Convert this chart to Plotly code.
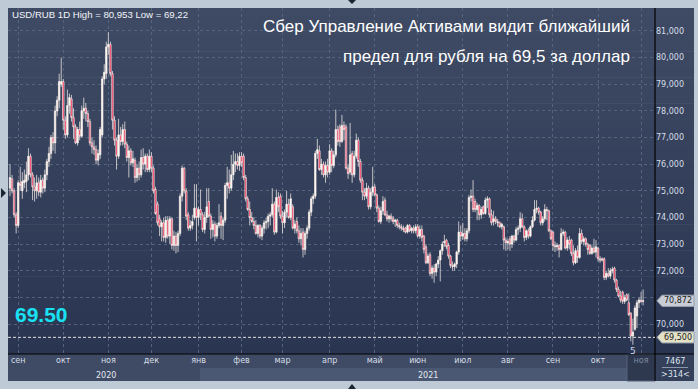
import plotly.graph_objects as go
import pandas as pd

# ---------------- data ----------------
dates = pd.bdate_range("2020-08-26", "2021-11-02").strftime("%Y-%m-%d").tolist()

opens = [
    75.10, 75.45, 75.00, 74.10, 73.70, 75.30, 75.00, 75.30, 75.35, 75.60,
    76.30, 75.60, 75.15, 75.00, 75.30, 74.95, 75.40, 75.10, 75.60, 76.10,
    76.40, 77.00, 76.80, 78.00, 78.40, 79.00, 79.10, 77.65, 77.10, 78.20,
    78.45, 77.75, 77.40, 76.80, 77.30, 77.05, 78.00, 78.10, 77.90, 77.60,
    76.80, 76.65, 76.55, 76.15, 76.35, 77.10, 79.20, 79.40, 80.40, 80.50,
    79.40, 77.65, 76.90, 76.30, 77.10, 76.85, 77.30, 76.75, 76.25, 76.50,
    76.05, 76.15, 75.50, 75.85, 75.60, 76.25, 76.00, 76.30, 75.80, 76.30,
    75.85, 75.05, 74.50, 73.95, 73.65, 73.80, 73.25, 73.90, 73.30, 73.95,
    72.95, 73.30, 72.95, 73.40, 74.80, 75.85, 75.00, 74.10, 73.60, 73.70,
    74.00, 74.35, 74.00, 74.30, 74.10, 73.55, 74.00, 74.60, 74.05, 73.55,
    73.75, 73.30, 73.70, 74.05, 73.70, 73.90, 75.20, 75.30, 75.10, 75.60,
    76.00, 76.10, 75.95, 76.30, 76.30, 75.50, 74.70, 74.30, 74.00, 73.85,
    73.70, 73.40, 73.70, 73.30, 73.60, 73.80, 73.85, 74.05, 74.10, 74.50,
    73.45, 74.75, 74.80, 74.05, 73.80, 74.20, 74.50, 74.00, 74.40, 73.60,
    73.85, 73.50, 73.20, 73.45, 72.80, 73.40, 73.60, 74.20, 74.70, 74.80,
    76.40, 76.50, 75.80, 76.00, 75.60, 75.95, 75.70, 76.50, 75.95, 76.35,
    77.30, 77.40, 76.85, 77.45, 77.40, 75.85, 75.70, 76.40, 75.60, 76.30,
    76.90, 76.10, 75.40, 74.95, 74.80, 75.10, 74.40, 74.95, 75.15, 74.85,
    74.35, 73.85, 74.25, 74.65, 74.10, 73.95, 74.05, 73.95, 73.85, 73.90,
    73.70, 73.65, 73.60, 73.60, 73.45, 73.70, 73.50, 73.60, 73.50, 73.65,
    73.30, 73.55, 73.30, 72.90, 72.30, 72.60, 71.90, 72.10, 71.95, 72.25,
    72.40, 72.75, 73.05, 73.15, 72.95, 72.55, 72.20, 72.15, 72.25, 72.70,
    73.45, 73.30, 73.40, 73.20, 73.50, 74.75, 74.80, 74.60, 74.30, 74.45,
    74.10, 74.40, 74.15, 74.65, 74.70, 74.10, 73.85, 73.95, 73.85, 73.80,
    73.65, 73.65, 73.15, 73.05, 73.20, 73.00, 73.30, 73.15, 73.55, 73.60,
    73.95, 73.65, 73.25, 73.50, 73.30, 73.65, 73.90, 74.30, 74.35, 74.20,
    73.80, 73.95, 74.30, 74.25, 73.50, 73.45, 72.95, 72.90, 72.95, 72.80,
    73.40, 73.45, 72.85, 73.15, 73.15, 72.65, 72.30, 72.75, 72.50, 73.40,
    73.10, 73.20, 73.00, 72.95, 72.65, 72.85, 72.70, 72.85, 72.45, 72.45,
    72.45, 71.75, 71.90, 71.80, 72.00, 72.10, 71.65, 71.30, 71.05, 71.20,
    70.85, 71.10, 70.80, 70.40, 69.55, 69.80, 70.30, 70.80, 70.90, 70.85,
]

highs = [
    76.00, 75.60, 75.10, 74.20, 75.40, 75.90, 75.70, 75.80, 76.10, 76.60,
    76.40, 75.70, 75.50, 75.60, 75.50, 75.60, 75.50, 75.80, 76.20, 76.65,
    77.10, 77.20, 78.20, 78.55, 79.40, 80.00, 79.20, 77.80, 78.80, 78.65,
    78.60, 78.10, 77.50, 77.40, 77.60, 78.20, 78.50, 78.30, 78.00, 77.70,
    77.00, 76.90, 76.70, 76.55, 77.40, 79.30, 79.75, 80.60, 80.953, 80.60,
    79.50, 77.80, 77.00, 77.70, 77.40, 77.50, 77.60, 76.85, 76.70, 76.60,
    76.50, 76.25, 76.00, 76.10, 76.55, 76.60, 76.40, 76.40, 76.55, 76.45,
    75.95, 75.15, 74.60, 74.10, 73.90, 74.00, 74.05, 74.05, 74.05, 74.00,
    73.50, 73.45, 73.50, 74.90, 75.95, 75.90, 75.10, 74.20, 73.90, 74.10,
    75.25, 75.25, 74.40, 75.05, 74.20, 74.20, 75.10, 75.10, 74.15, 73.90,
    73.85, 73.80, 74.50, 74.20, 74.00, 75.30, 75.90, 75.80, 76.35, 76.50,
    76.40, 76.40, 76.45, 76.45, 76.40, 75.60, 74.80, 74.60, 74.20, 74.00,
    73.90, 73.75, 73.75, 73.70, 73.90, 74.00, 74.15, 74.20, 75.10, 74.60,
    75.05, 74.95, 74.90, 74.25, 74.30, 75.00, 74.70, 74.90, 74.50, 73.90,
    74.00, 73.70, 73.60, 73.60, 73.50, 73.70, 74.30, 74.80, 74.90, 76.50,
    76.95, 76.70, 76.20, 76.10, 76.10, 76.20, 76.75, 76.60, 76.50, 78.05,
    77.45, 77.50, 77.85, 77.60, 77.50, 76.00, 77.55, 76.50, 76.50, 77.15,
    77.00, 76.20, 75.50, 75.10, 75.30, 75.20, 75.10, 75.90, 75.25, 74.90,
    74.45, 74.40, 74.80, 74.75, 74.25, 74.10, 74.15, 74.05, 73.95, 73.95,
    73.80, 73.75, 73.70, 73.65, 73.75, 73.75, 73.65, 73.70, 73.75, 73.75,
    73.70, 73.70, 73.35, 73.00, 72.65, 72.70, 72.20, 72.25, 72.30, 72.55,
    72.80, 73.10, 73.35, 73.20, 73.05, 72.60, 72.35, 72.30, 72.75, 73.85,
    73.70, 73.80, 73.60, 73.60, 74.85, 75.05, 75.40, 74.70, 74.55, 74.50,
    74.40, 74.45, 74.75, 74.80, 74.75, 74.30, 74.25, 74.05, 73.95, 73.85,
    73.80, 73.70, 73.25, 73.20, 73.30, 73.35, 73.35, 73.65, 73.70, 74.20,
    74.15, 73.70, 73.55, 73.60, 73.70, 74.05, 74.65, 74.65, 74.40, 74.25,
    74.05, 74.50, 74.40, 74.30, 73.55, 73.50, 73.10, 73.05, 73.00, 73.60,
    73.55, 73.50, 73.25, 73.30, 73.20, 72.95, 72.85, 72.95, 73.60, 73.55,
    73.30, 73.25, 73.05, 73.00, 72.95, 73.20, 73.15, 72.90, 72.55, 72.50,
    72.50, 72.00, 72.10, 72.10, 72.15, 72.15, 71.70, 71.40, 71.25, 71.25,
    71.10, 71.15, 71.15, 70.45, 70.20, 70.70, 70.90, 71.00, 71.20, 71.30,
]

lows = [
    74.80, 74.90, 74.00, 73.40, 73.60, 75.00, 74.70, 75.10, 74.95, 75.40,
    75.50, 74.65, 74.60, 74.70, 74.80, 74.75, 74.90, 74.95, 75.40, 75.90,
    76.20, 76.50, 76.40, 77.80, 78.10, 78.90, 77.30, 76.95, 77.00, 77.90,
    77.60, 76.95, 76.75, 76.70, 76.90, 77.00, 77.70, 77.60, 77.40, 76.70,
    76.40, 76.35, 76.00, 75.95, 76.20, 77.00, 79.00, 79.20, 80.10, 79.30,
    77.30, 76.70, 75.80, 76.20, 76.70, 76.70, 76.60, 76.10, 75.50, 75.95,
    75.90, 75.30, 75.35, 75.40, 75.50, 75.80, 75.70, 75.70, 75.70, 75.70,
    74.90, 74.10, 73.70, 73.30, 73.10, 73.10, 73.05, 73.20, 73.00, 72.80,
    72.75, 72.65, 72.70, 73.30, 74.60, 74.90, 73.90, 73.50, 73.50, 73.55,
    73.90, 73.10, 73.70, 73.90, 73.45, 73.40, 73.80, 74.00, 73.20, 73.25,
    73.10, 73.20, 73.60, 73.20, 73.15, 73.80, 74.70, 74.90, 75.00, 75.40,
    75.70, 75.80, 75.75, 75.90, 75.40, 74.60, 74.25, 73.70, 73.80, 73.55,
    73.35, 73.25, 73.20, 73.15, 73.40, 73.55, 73.60, 73.70, 74.00, 73.35,
    73.40, 74.20, 73.95, 73.40, 73.60, 74.00, 73.95, 73.90, 73.55, 73.40,
    73.40, 73.05, 72.95, 72.50, 72.60, 73.20, 73.50, 74.05, 74.50, 74.70,
    76.20, 75.75, 75.60, 75.50, 75.30, 75.50, 75.60, 75.70, 75.85, 76.25,
    76.70, 76.65, 76.80, 76.90, 75.80, 75.45, 75.60, 75.30, 75.50, 76.20,
    75.90, 75.30, 74.65, 74.65, 74.70, 74.30, 74.30, 74.80, 74.80, 74.20,
    73.80, 73.75, 74.10, 74.05, 73.85, 73.80, 73.85, 73.75, 73.65, 73.60,
    73.55, 73.50, 73.45, 73.40, 73.40, 73.45, 73.40, 73.40, 73.40, 73.25,
    73.20, 73.10, 72.65, 72.25, 72.25, 71.80, 71.70, 71.55, 71.80, 72.10,
    71.60, 72.60, 72.90, 72.80, 72.45, 72.10, 72.00, 72.00, 72.10, 72.60,
    73.10, 73.15, 73.10, 73.10, 73.40, 74.60, 74.20, 74.20, 73.90, 73.90,
    73.95, 74.10, 74.10, 74.35, 74.00, 73.70, 73.70, 73.75, 73.65, 73.60,
    73.55, 72.80, 72.75, 72.80, 72.75, 72.85, 73.05, 73.10, 73.35, 73.45,
    73.60, 73.10, 73.15, 73.20, 73.25, 73.60, 73.85, 74.15, 74.10, 73.70,
    73.70, 73.85, 73.90, 73.45, 73.15, 72.75, 72.70, 72.75, 72.50, 72.75,
    73.30, 72.80, 72.75, 72.80, 72.55, 72.20, 72.25, 72.30, 72.45, 73.00,
    72.95, 72.90, 72.60, 72.60, 72.60, 72.65, 72.50, 72.35, 72.30, 72.35,
    71.65, 71.65, 71.75, 71.70, 71.90, 71.55, 71.20, 71.00, 70.80, 70.75,
    70.75, 70.85, 70.30, 69.35, 69.22, 69.75, 69.85, 70.60, 70.80, 70.70,
]

closes = [
    75.50, 75.00, 74.10, 73.70, 75.30, 75.20, 75.35, 75.40, 75.60, 76.30,
    75.60, 75.15, 75.00, 75.30, 74.95, 75.40, 75.10, 75.60, 76.10, 76.40,
    77.00, 76.80, 78.00, 78.40, 79.10, 79.10, 77.65, 77.10, 78.20, 78.50,
    77.75, 77.40, 76.80, 77.30, 77.05, 78.00, 78.10, 77.90, 77.60, 76.80,
    76.65, 76.55, 76.15, 76.40, 77.30, 79.20, 79.45, 80.40, 80.50, 79.40,
    77.65, 76.90, 76.30, 77.10, 76.85, 77.30, 76.75, 76.25, 76.50, 76.05,
    76.20, 75.50, 75.85, 75.60, 76.25, 76.00, 76.30, 75.80, 76.30, 75.85,
    75.00, 74.15, 73.80, 73.65, 73.80, 73.25, 73.90, 73.30, 73.95, 72.95,
    73.30, 72.95, 73.40, 74.80, 75.85, 75.00, 74.05, 73.60, 73.70, 73.85,
    74.35, 74.00, 74.30, 74.10, 73.55, 74.00, 74.40, 74.05, 73.55, 73.75,
    73.30, 73.70, 73.80, 73.70, 73.90, 75.20, 75.30, 75.10, 75.60, 76.00,
    76.10, 75.95, 76.30, 76.05, 75.50, 74.70, 74.30, 74.00, 73.85, 73.70,
    73.40, 73.70, 73.30, 73.60, 73.80, 73.85, 74.05, 74.10, 74.50, 73.45,
    74.75, 74.40, 74.05, 73.80, 74.20, 74.50, 74.00, 74.70, 73.60, 73.75,
    73.50, 73.20, 73.40, 72.80, 73.40, 73.60, 74.20, 74.70, 74.80, 76.40,
    76.55, 75.80, 76.00, 75.60, 75.95, 75.70, 76.50, 75.95, 76.35, 77.30,
    76.85, 76.85, 77.45, 77.30, 75.85, 75.65, 76.35, 75.60, 76.30, 76.90,
    76.10, 75.40, 74.95, 74.80, 75.10, 74.40, 74.95, 75.15, 74.85, 74.35,
    73.85, 74.25, 74.60, 74.10, 73.95, 74.05, 73.95, 73.85, 73.90, 73.70,
    73.65, 73.60, 73.55, 73.45, 73.70, 73.50, 73.60, 73.50, 73.65, 73.30,
    73.55, 73.25, 72.80, 72.30, 72.55, 71.90, 72.10, 71.95, 72.25, 72.40,
    72.75, 73.00, 73.10, 72.90, 72.55, 72.20, 72.15, 72.25, 72.70, 73.45,
    73.30, 73.40, 73.20, 73.50, 74.75, 74.80, 74.30, 74.30, 74.45, 74.10,
    74.30, 74.15, 74.65, 74.70, 74.10, 73.80, 73.95, 73.85, 73.80, 73.65,
    73.75, 73.15, 73.05, 73.10, 73.00, 73.30, 73.15, 73.55, 73.60, 73.95,
    73.65, 73.25, 73.50, 73.30, 73.65, 73.90, 74.30, 74.35, 74.20, 73.80,
    73.95, 74.30, 74.25, 73.50, 73.20, 72.95, 72.90, 72.95, 72.80, 73.40,
    73.45, 72.85, 73.15, 73.00, 72.65, 72.30, 72.75, 72.50, 73.40, 73.10,
    73.20, 73.00, 72.80, 72.65, 72.85, 72.70, 72.90, 72.45, 72.40, 72.40,
    71.75, 71.90, 71.80, 72.00, 72.05, 71.65, 71.30, 71.05, 70.90, 70.85,
    71.00, 70.90, 70.35, 69.55, 69.70, 70.60, 70.80, 70.90, 70.85, 70.87,
]

month_ticks = ["2020-09-01", "2020-10-01", "2020-11-02", "2020-12-01", "2021-01-01",
               "2021-02-01", "2021-03-01", "2021-04-01", "2021-05-03", "2021-06-01",
               "2021-07-01", "2021-08-02", "2021-09-01", "2021-10-01", "2021-11-01"]
month_labels = ["сен", "окт", "ноя", "дек", "янв", "фев", "мар", "апр", "май",
                "июн", "июл", "авг", "сен", "окт", "ноя"]
year_labels = ["2020", "2021"]
price_ticks = [70, 71, 72, 73, 74, 75, 76, 77, 78, 79, 80, 81]
# the 71,000 label is hidden behind the last-price tag in the reference
price_labels = ["70,000", "", "72,000", "73,000", "74,000", "75,000",
                "76,000", "77,000", "78,000", "79,000", "80,000", "81,000"]

last_price = 70.872
last_label = "70,872"
target_level = 69.5
target_label = "69,500"
big_label = "69.50"
low_marker_date = "2021-10-26"
low_marker_text = "5"
info_text = "USD/RUB 1D High = 80,953 Low = 69,22"
title_lines = ["Сбер Управление Активами видит ближайший",
               "предел для рубля на 69,5 за доллар"]
counter_top = "7467"
counter_bottom = ">314<"

assert len(dates) == len(opens) == len(highs) == len(lows) == len(closes)

# ---------------- geometry helpers (pixel -> paper) ----------------
W, H = 698, 389
PL, PR, PT, PB = 8, 655, 8, 354
AXR = 694


def fx(px):
    return (px - PL) / (PR - PL)


def fy(py):
    return (PB - py) / (PB - PT)


WHITE = "#fff6f0"
RED = "#f00a3a"
GRID = "#56637c"
TICKC = "#d6dde7"
SMALL = "DejaVu Sans"
MAIN = "Liberation Sans"

fig = go.Figure()
fig.add_trace(go.Candlestick(
    x=dates, open=opens, high=highs, low=lows, close=closes,
    increasing=dict(line=dict(color=WHITE, width=0.7), fillcolor=WHITE),
    decreasing=dict(line=dict(color=WHITE, width=0.7), fillcolor=RED),
    whiskerwidth=0, showlegend=False, hoverinfo="skip",
))

shapes = []
# background gradient (plot + right axis area)
top_c = (63, 75, 101)
bot_c = (42, 54, 81)
n_b = 40
for i in range(n_b):
    t = i / (n_b - 1)
    c = tuple(round(top_c[k] + (bot_c[k] - top_c[k]) * t) for k in range(3))
    y0 = PT + (PB - PT) * i / n_b
    y1 = PT + (PB - PT) * (i + 1) / n_b + 0.6
    shapes.append(dict(type="rect", xref="paper", yref="paper", layer="below",
                       x0=fx(PL), x1=fx(AXR), y0=fy(y1), y1=fy(y0),
                       fillcolor="rgb(%d,%d,%d)" % c, line=dict(width=0)))


def prect(x0, x1, y0, y1, color, lc=None, layer="below"):
    return dict(type="rect", xref="paper", yref="paper", layer=layer,
                x0=fx(x0), x1=fx(x1), y0=fy(y1), y1=fy(y0),
                fillcolor=color, line=dict(width=1 if lc else 0, color=lc or color))


shapes.append(prect(PL, PR, PB, 368, "#3f4b64"))
shapes.append(prect(PL, 200, 368, 381, "#3f4b64"))
shapes.append(prect(200, 627, 368, 381, "#4b5873"))
shapes.append(prect(627, PR, PB, 381, "#2e394f", "#56627a"))
shapes.append(prect(PR, AXR, PB, 381, "#34405a"))

# black axis lines extended
shapes.append(dict(type="line", xref="paper", yref="paper", layer="above",
                   x0=fx(PR), x1=fx(PR), y0=fy(381), y1=fy(PT),
                   line=dict(color="#000000", width=1.2)))
shapes.append(dict(type="line", xref="paper", yref="paper", layer="above",
                   x0=fx(PL), x1=fx(AXR), y0=fy(PB), y1=fy(PB),
                   line=dict(color="#000000", width=1.2)))
# separator in counter box
shapes.append(dict(type="line", xref="paper", yref="paper", layer="above",
                   x0=fx(662), x1=fx(688), y0=fy(367.5), y1=fy(367.5),
                   line=dict(color="#8b97aa", width=1)))

# target level dotted line
shapes.append(dict(type="line", xref="paper", yref="y", layer="above",
                   x0=0, x1=1, y0=target_level, y1=target_level,
                   line=dict(color="#e2e2e2", width=1, dash="3px,2px")))

ppx = 26.64  # pixels per rouble (for tag half-height)


def tag(val, color):
    h = 5.6 / ppx
    xt, xb, xr = fx(657), fx(662), fx(694)
    path = (f"M {xt},{val} L {xb},{val + h} L {xr},{val + h} "
            f"L {xr},{val - h} L {xb},{val - h} Z")
    return dict(type="path", xref="paper", yref="y", layer="above", path=path,
                fillcolor=color, line=dict(color="#9aa2ad", width=1))


shapes.append(tag(last_price, "#c9ced6"))
shapes.append(tag(target_level, "#e3e1c6"))


def tri(points):
    p = "M " + " L ".join(f"{fx(a)},{fy(b)}" for a, b in points) + " Z"
    return dict(type="path", xref="paper", yref="paper", layer="above", path=p,
                fillcolor="#1a2233", line=dict(width=0))


shapes.append(tri([(1, 188), (6, 193), (1, 198)]))
shapes.append(tri([(348, 0), (356, 0), (352, 4)]))
shapes.append(tri([(348, 389), (356, 389), (352, 384)]))

annotations = []
annotations.append(dict(xref="paper", yref="paper", x=fx(10), y=fy(15),
                        xanchor="left", yanchor="middle", showarrow=False,
                        text=info_text,
                        font=dict(family=MAIN, size=9.6, color="#f2f4f8")))
for line, py in zip(title_lines, [26, 57]):
    annotations.append(dict(xref="paper", yref="paper", x=fx(632), y=fy(py),
                            xanchor="right", yanchor="middle", showarrow=False,
                            text=line,
                            font=dict(family=MAIN, size=17, color="#ffffff")))
annotations.append(dict(xref="paper", yref="paper", x=fx(13), y=fy(314),
                        xanchor="left", yanchor="middle", showarrow=False,
                        text="<b>" + big_label + "</b>",
                        font=dict(family=MAIN, size=21, color="#18e2f2")))
annotations.append(dict(xref="paper", yref="y", x=fx(678), y=last_price,
                        xanchor="center", yanchor="middle", showarrow=False,
                        text=last_label,
                        font=dict(family=SMALL, size=8, color="#1b1b1b")))
annotations.append(dict(xref="paper", yref="y", x=fx(678), y=target_level,
                        xanchor="center", yanchor="middle", showarrow=False,
                        text=target_label,
                        font=dict(family=SMALL, size=8, color="#1b1b1b")))
annotations.append(dict(xref="paper", yref="paper", x=fx(675), y=fy(361),
                        xanchor="center", yanchor="middle", showarrow=False,
                        text=counter_top,
                        font=dict(family=SMALL, size=8, color="#dfe5ee")))
annotations.append(dict(xref="paper", yref="paper", x=fx(675), y=fy(374),
                        xanchor="center", yanchor="middle", showarrow=False,
                        text=counter_bottom,
                        font=dict(family=SMALL, size=8, color="#dfe5ee")))
for lab, px in zip(year_labels, [106, 428]):
    annotations.append(dict(xref="paper", yref="paper", x=fx(px), y=fy(375),
                            xanchor="center", yanchor="middle", showarrow=False,
                            text=lab,
                            font=dict(family=SMALL, size=8, color="#e4e9f0")))
annotations.append(dict(xref="x", yref="y", x=low_marker_date, y=min(lows),
                        xanchor="center", yanchor="top", showarrow=False,
                        text=low_marker_text, yshift=1,
                        font=dict(family=SMALL, size=9, color="#c9d6ea")))

tick_text = list(month_labels)
tick_text[-1] = '<span style="color:#7f8ba0">' + month_labels[-1] + "</span>"

fig.update_layout(
    width=W, height=H, autosize=False,
    margin=dict(l=PL, r=W - PR, t=PT, b=H - PB, pad=0),
    paper_bgcolor="#bfcad7", plot_bgcolor="rgba(0,0,0,0)",
    boxgap=0.0,
    showlegend=False,
    shapes=shapes, annotations=annotations,
    xaxis=dict(type="category", range=[-0.98, 314.8],
               tickmode="array", tickvals=month_ticks, ticktext=tick_text,
               tickfont=dict(family=SMALL, size=8, color=TICKC),
               showgrid=True, gridcolor=GRID, griddash="3px,3px", gridwidth=1,
               showline=False, ticks="", rangeslider=dict(visible=False),
               fixedrange=True),
    yaxis=dict(side="right", range=[68.875, 81.863],
               tickmode="array", tickvals=price_ticks, ticktext=price_labels,
               tickfont=dict(family=SMALL, size=8, color=TICKC),
               showgrid=True, gridcolor=GRID, griddash="3px,3px", gridwidth=1,
               zeroline=False, showline=False, ticks="", fixedrange=True),
)

fig.write_html("out.html")
